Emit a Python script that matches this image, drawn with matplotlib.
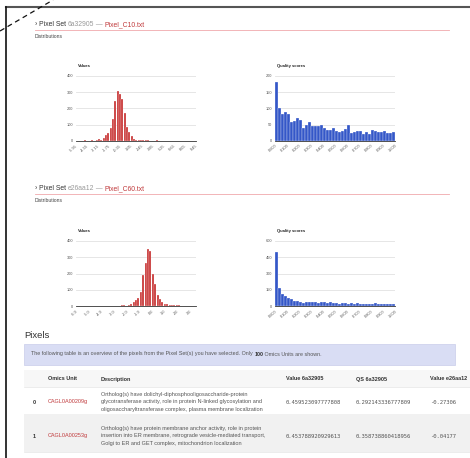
import numpy as np
import matplotlib
matplotlib.use("Agg")
import matplotlib.pyplot as plt
from matplotlib.patches import Rectangle

W, H = 470, 458

# ---- data ----
# pixel set 1 (6a32905): value histogram, bin centres start -5.10, step 0.30
val1_start, val1_step = -5.10, 0.30
val1_counts = [3, 4, 2, 0, 4, 3, 5, 11, 7, 20, 35, 50, 78, 135, 243, 308, 286, 257,
               170, 86, 57, 30, 12, 6, 9, 7, 6, 4, 5, 2, 3, 1, 4, 1, 0, 2, 0, 3]
val1_ticks = [-5.95, -4.55, -3.15, -1.75, -0.35, 1.05, 2.45, 3.85, 5.25, 6.65, 8.05, 9.45]

# pixel set 1 quality scores, 40 bins over 0..1
qs1_counts = [180, 100, 82, 88, 82, 58, 61, 71, 64, 41, 48, 57, 46, 46, 46, 50, 39, 35,
              33, 40, 32, 27, 32, 37, 48, 25, 28, 30, 32, 22, 28, 22, 34, 31, 28, 27,
              30, 23, 26, 27]

# pixel set 2 (e26aa12): value histogram, bin centres start -2.77, step 0.19
val2_start, val2_step = -2.77, 0.19
val2_counts = [3, 0, 5, 5, 4, 8, 15, 25, 38, 50, 90, 190, 265, 350, 340, 195, 135, 70,
               45, 25, 15, 12, 10, 8, 7, 8, 5, 3, 0, 0, 0, 4]
val2_ticks = [-6.0, -5.0, -4.0, -3.0, -2.0, -1.0, 0.0, 1.0, 2.0, 3.0]

qs2_counts = [495, 165, 110, 98, 73, 67, 46, 46, 40, 34, 37, 40, 43, 37, 31, 37, 37, 31,
              37, 31, 28, 25, 28, 28, 25, 28, 21, 28, 21, 18, 25, 21, 25, 28, 21, 25,
              21, 25, 21, 25]
qs_ticks = [0.0, 0.1, 0.2, 0.3, 0.4, 0.5, 0.6, 0.7, 0.8, 0.9, 1.0]

# table rows
units = ["CAGL0A00209g", "CAGL0A00253g"]
descriptions = [
    ["Ortholog(s) have dolichyl-diphosphooligosaccharide-protein",
     "glycotransferase activity, role in protein N-linked glycosylation and",
     "oligosaccharyltransferase complex, plasma membrane localization"],
    ["Ortholog(s) have protein membrane anchor activity, role in protein",
     "insertion into ER membrane, retrograde vesicle-mediated transport,",
     "Golgi to ER and GET complex, mitochondrion localization"],
]
value_a = ["0.459523097777808", "0.453788920929613"]
qs_a = ["0.292143336777809", "0.358738860418956"]
value_b = ["-0.27306", "-0.04177"]

RED = "#c62f2f"
BLUE = "#3457c8"
plt.rcParams['font.family'] = ['Liberation Sans', 'DejaVu Sans']

fig = plt.figure(figsize=(W / 100, H / 100), dpi=100)
bg = fig.add_axes([0, 0, 1, 1])
bg.set_xlim(0, W)
bg.set_ylim(H, 0)
bg.axis('off')
renderer = fig.canvas.get_renderer()


def chain(x, y, parts, size, **kw):
    # draw text pieces one after another on a line
    for s, c, w in parts:
        t = bg.text(x, y, s, color=c, fontsize=size, fontweight=w,
                    ha='left', va='center', **kw)
        x += t.get_window_extent(renderer=renderer).width


def box(x0, y0, x1, y1):
    return [x0 / W, 1 - y1 / H, (x1 - x0) / W, (y1 - y0) / H]


def hist(rect, centers, counts, width, color, xlim, xticks, xlabels, yticks, title):
    ax = fig.add_axes(box(*rect))
    ax.bar(centers, counts, width=width, color=color, edgecolor='white',
           linewidth=0.2, zorder=3)
    ax.set_xlim(*xlim)
    ax.set_ylim(yticks[0], yticks[-1])
    ax.set_yticks(yticks)
    ax.set_yticklabels([str(v) for v in yticks])
    ax.set_xticks(xticks)
    ax.set_xticklabels(xlabels, rotation=40, ha='right', rotation_mode='anchor')
    ax.tick_params(length=0, labelsize=2.8, labelcolor='#555', pad=2)
    ax.yaxis.grid(True, color='#e2e2e2', lw=0.6, zorder=0)
    for s in ['top', 'right', 'left']:
        ax.spines[s].set_visible(False)
    ax.spines['bottom'].set_color('#333')
    ax.spines['bottom'].set_linewidth(0.6)
    ax.set_facecolor('none')
    bg.text(rect[0] + 2, rect[1] - 9.5, title, fontsize=3.0, fontweight='bold',
            color='#222', va='center')
    return ax


# page frame
bg.plot([6, W], [7, 7], color='#555', lw=1.5)
bg.plot([6, 6], [7, H], color='#111', lw=1.2)
bg.plot([0, 53], [31, 0], color='#111', lw=0.9, ls=(0, (4, 3)))

# section headers
for y, pid, fname in [(24.5, "6a32905", "Pixel_C10.txt"), (188.5, "e26aa12", "Pixel_C60.txt")]:
    chain(35, y, [("\u203a Pixel Set ", '#333', 'normal'), (pid, '#999', 'normal'),
                  (" \u2014 ", '#999', 'normal'), (fname, '#c0393b', 'normal')], 4.9)
    bg.plot([35, 449], [y + 5, y + 5], color='#f0a8ac', lw=0.6)
    bg.text(35, y + 12.5, "Distributions", fontsize=3.6, color='#444', va='center')

# histograms
hist((76, 75.7, 196, 141), [val1_start + val1_step * i for i in range(len(val1_counts))],
     val1_counts, val1_step * 0.85, RED, (-5.95, 9.45), val1_ticks,
     ["%.2f" % v for v in val1_ticks], [0, 100, 200, 300, 400], "Values")
hist((275, 75.7, 395, 141), [0.0125 + 0.025 * i for i in range(40)], qs1_counts,
     0.025 * 0.85, BLUE, (0, 1), qs_ticks, ["%.3f" % v for v in qs_ticks],
     [0, 50, 100, 150, 200], "Quality scores")
hist((76, 240.7, 196, 306.3), [val2_start + val2_step * i for i in range(len(val2_counts))],
     val2_counts, val2_step * 0.85, RED, (-6.0, 3.5), val2_ticks,
     ["%.1f" % v for v in val2_ticks], [0, 100, 200, 300, 400], "Values")
hist((275, 240.7, 395, 306.3), [0.0125 + 0.025 * i for i in range(40)], qs2_counts,
     0.025 * 0.85, BLUE, (0, 1), qs_ticks, ["%.3f" % v for v in qs_ticks],
     [0, 150, 300, 450, 600], "Quality scores")

# Pixels section
bg.text(24, 335, "Pixels", fontsize=6.8, color='#333', va='center')
bg.add_patch(Rectangle((24, 343.5), 431, 21, facecolor='#d9ddf4', edgecolor='#c9cdea', lw=0.5))
chain(31, 354, [("The following table is an overview of the pixels from the Pixel Set(s) you have selected. Only ", '#555', 'normal'),
                ("100", '#333', 'bold'), (" Omics Units are shown.", '#555', 'normal')], 3.9)

# table
bg.add_patch(Rectangle((24, 370), 446, 17, facecolor='#f7f7f7', edgecolor='none'))
bg.add_patch(Rectangle((24, 413.5), 446, 38, facecolor='#f1f1f1', edgecolor='none'))
bg.plot([24, 470], [387, 387], color='#e4e4e4', lw=0.5)
bg.plot([24, 470], [451.5, 451.5], color='#e4e4e4', lw=0.5)
header_x = [48, 101, 286, 356, 430]
header_lbl = ["Omics Unit", "Description", "Value 6a32905", "QS 6a32905", "Value e26aa12"]
for x, s in zip(header_x, header_lbl):
    bg.text(x, 379, s, fontsize=4.0, fontweight='bold', color='#333', va='center',
            clip_on=True)

row_y = [402, 436]
for i in range(len(units)):
    y = row_y[i]
    bg.text(33, y, str(i), fontsize=4.0, fontweight='bold', color='#333', va='center')
    bg.text(48, y, units[i], fontsize=4.0, color='#c0393b', va='center')
    for j, line in enumerate(descriptions[i]):
        bg.text(101, y - 7.3 + 7.3 * j, line, fontsize=4.0, color='#555', va='center')
    for x, s in zip([286, 356, 430], [value_a[i], qs_a[i], value_b[i]]):
        bg.text(x, y, s, fontsize=4.0, color='#555', va='center', family='DejaVu Sans Mono')

fig.savefig("out.png", dpi=100)
